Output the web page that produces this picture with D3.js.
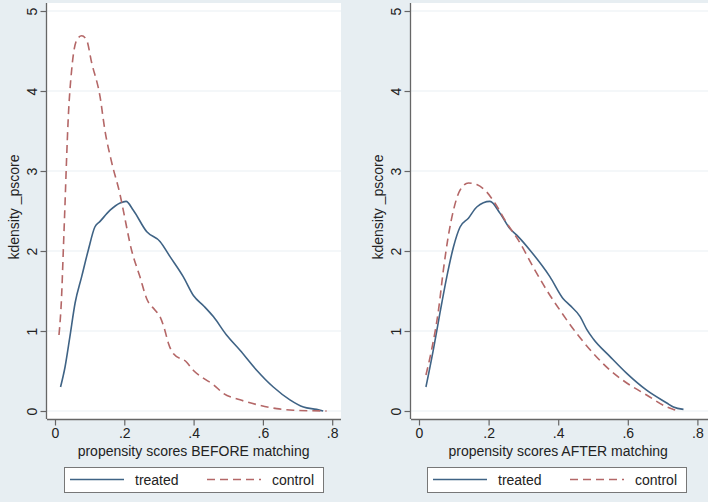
<!DOCTYPE html>
<html><head><meta charset="utf-8">
<script src="https://cdn.jsdelivr.net/npm/d3@7"></script>
<style>
html,body{margin:0;padding:0;background:#e7eef2;}
svg{display:block;}
text{font-family:"Liberation Sans",Arial,sans-serif;fill:#222;}
</style></head>
<body>
<script>
// ---- data ----
const xTicks = [0, 0.2, 0.4, 0.6, 0.8];
const xTickLabels = ["0", ".2", ".4", ".6", ".8"];
const yTicks = [0, 1, 2, 3, 4, 5];
const yTickLabels = ["0", "1", "2", "3", "4", "5"];
const seriesNames = ["treated", "control"];
const yTitle = "kdensity _pscore";
const xTitles = ["propensity scores BEFORE matching", "propensity scores AFTER matching"];

const beforeTreatedX = [0.016,0.029,0.043,0.058,0.077,0.096,0.115,0.130,0.159,0.188,0.205,0.226,0.265,0.303,0.332,0.370,0.400,0.430,0.457,0.495,0.534,0.582,0.630,0.678,0.717,0.755,0.774];
const beforeTreatedY = [0.30,0.55,0.93,1.35,1.68,2.01,2.30,2.37,2.51,2.60,2.62,2.51,2.24,2.12,1.93,1.68,1.44,1.31,1.18,0.95,0.76,0.51,0.30,0.14,0.05,0.02,0.00];

const beforeControlX = [0.0115,0.019,0.024,0.029,0.033,0.038,0.048,0.063,0.077,0.091,0.106,0.130,0.144,0.164,0.188,0.197,0.221,0.245,0.265,0.289,0.303,0.317,0.327,0.341,0.380,0.399,0.428,0.457,0.486,0.534,0.592,0.640,0.688,0.784];
const beforeControlY = [0.95,1.43,2.01,2.60,3.10,3.64,4.26,4.64,4.69,4.64,4.35,3.93,3.51,3.10,2.70,2.51,2.01,1.68,1.40,1.26,1.18,1.01,0.85,0.72,0.61,0.51,0.41,0.33,0.22,0.14,0.07,0.03,0.01,0.00];

const afterTreatedX = [0.020,0.041,0.060,0.080,0.099,0.118,0.142,0.166,0.204,0.233,0.261,0.285,0.319,0.376,0.415,0.434,0.463,0.482,0.501,0.549,0.597,0.654,0.712,0.731,0.760];
const afterTreatedY = [0.30,0.76,1.22,1.68,2.05,2.30,2.41,2.55,2.62,2.47,2.28,2.18,2.01,1.68,1.40,1.32,1.18,1.02,0.90,0.68,0.47,0.26,0.10,0.05,0.02];

const afterControlX = [0.020,0.036,0.056,0.070,0.084,0.099,0.118,0.142,0.166,0.194,0.218,0.252,0.285,0.328,0.367,0.405,0.453,0.501,0.549,0.597,0.654,0.712,0.731,0.745];
const afterControlY = [0.45,0.76,1.26,1.76,2.18,2.51,2.76,2.85,2.83,2.74,2.60,2.35,2.14,1.80,1.51,1.26,0.97,0.72,0.51,0.35,0.20,0.05,0.02,0.00];

// ---- drawing ----
const W = 708, H = 502;
const colTreated = "#3f6385", colControl = "#b46767";
const svg = d3.select("body").append("svg").attr("width", W).attr("height", H);
svg.append("rect").attr("width", W).attr("height", H).attr("fill", "#e7eef2");

const panels = [
  {plotL:47, plotR:341, x0:55, x1:332.2, yTitleX:14, xTitle:xTitles[0],
   series:[[beforeTreatedX,beforeTreatedY],[beforeControlX,beforeControlY]],
   leg:{l:64, r:323}},
  {plotL:411, plotR:708, x0:419, x1:697.4, yTitleX:378, xTitle:xTitles[1],
   series:[[afterTreatedX,afterTreatedY],[afterControlX,afterControlY]],
   leg:{l:427, r:686}}
];
const plotT = 3, plotB = 419;
const y = d3.scaleLinear().domain([0,5]).range([411, 11]);

panels.forEach(p => {
  const x = d3.scaleLinear().domain([0,0.8]).range([p.x0, p.x1]);
  const g = svg.append("g");
  g.append("rect").attr("x", p.plotL).attr("y", plotT).attr("width", p.plotR - p.plotL).attr("height", plotB - plotT).attr("fill", "#ffffff");
  // gridlines
  g.selectAll("line.grid").data(yTicks).join("line").attr("class","grid")
    .attr("x1", p.plotL).attr("x2", p.plotR).attr("y1", d => y(d)).attr("y2", d => y(d))
    .attr("stroke", "#eaf0f4").attr("stroke-width", 1.2);
  // y axis
  const ya = g.append("g").attr("transform", `translate(${p.plotL - 0.5},0)`)
    .call(d3.axisLeft(y).tickValues(yTicks).tickFormat((d,i) => yTickLabels[i]).tickSize(6).tickPadding(8));
  ya.select(".domain").attr("d", `M0,${plotT}V${plotB}`).attr("stroke", "#666").attr("stroke-width", 1.3);
  ya.selectAll(".tick line").attr("stroke", "#666").attr("stroke-width", 1.2);
  ya.selectAll(".tick text").attr("transform", "rotate(-90)").attr("x", 0).attr("y", -14)
    .attr("dy", "0.35em").attr("text-anchor", "middle").style("font-size", "14px")
    .style("font-family", '"Liberation Sans",Arial,sans-serif').attr("fill", "#222");
  // x axis
  const xa = g.append("g").attr("transform", `translate(0,${plotB + 0.5})`)
    .call(d3.axisBottom(x).tickValues(xTicks).tickFormat((d,i) => xTickLabels[i]).tickSize(6).tickPadding(3));
  xa.select(".domain").attr("d", `M${p.plotL},0H${p.plotR}`).attr("stroke", "#666").attr("stroke-width", 1.3);
  xa.selectAll(".tick line").attr("stroke", "#666").attr("stroke-width", 1.2);
  xa.selectAll(".tick text").style("font-size", "14px")
    .style("font-family", '"Liberation Sans",Arial,sans-serif').attr("fill", "#222");
  // titles
  g.append("text").attr("x", (p.x0 + p.x1) / 2).attr("y", 456).attr("text-anchor", "middle")
    .style("font-size", "14px").text(p.xTitle);
  g.append("text").attr("transform", `translate(${p.yTitleX},207) rotate(-90)`).attr("text-anchor", "middle")
    .attr("dy", "0.35em").style("font-size", "14px").text(yTitle);
  // lines
  const line = d3.line().x(d => x(d[0])).y(d => y(d[1])).curve(d3.curveMonotoneX);
  const cols = [colTreated, colControl];
  p.series.forEach((s, i) => {
    const pts = s[0].map((v, k) => [v, s[1][k]]);
    g.append("path").datum(pts).attr("d", line).attr("fill", "none")
      .attr("stroke", cols[i]).attr("stroke-width", 1.6)
      .attr("stroke-dasharray", i === 1 ? "8,5" : null);
  });
  // legend
  const L = p.leg;
  const lg = g.append("g");
  lg.append("rect").attr("x", L.l + 0.5).attr("y", 467.5).attr("width", L.r - L.l).attr("height", 25)
    .attr("fill", "#ffffff").attr("stroke", "#777").attr("stroke-width", 1);
  const lx = d3.scaleOrdinal().domain(seriesNames).range([L.l + 6, L.l + 143]);
  seriesNames.forEach((nm, i) => {
    const sx = lx(nm);
    lg.append("line").attr("x1", sx).attr("x2", sx + 54).attr("y1", 479.5).attr("y2", 479.5)
      .attr("stroke", cols[i]).attr("stroke-width", 1.6).attr("stroke-dasharray", i === 1 ? "8,5" : null);
    lg.append("text").attr("x", sx + 65).attr("y", 480).attr("dy", "0.35em")
      .style("font-size", "14px").text(nm);
  });
});
</script>
</body></html>
